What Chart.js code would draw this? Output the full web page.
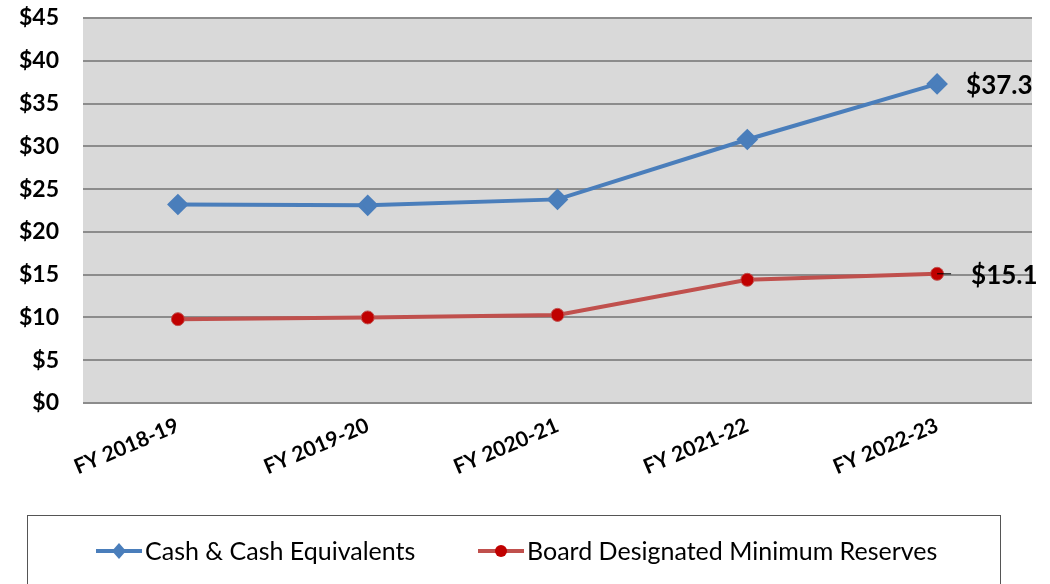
<!DOCTYPE html>
<html>
<head>
<meta charset="utf-8">
<script src="https://cdn.jsdelivr.net/npm/chart.js@4"></script>
<style>
  html, body { margin: 0; padding: 0; background: #fff; }
  #wrap { width: 1050px; height: 584px; position: relative; }
</style>
</head>
<body>
<div id="wrap"><canvas id="reserveChart"></canvas></div>
<script>
const years = ['FY 2018-19', 'FY 2019-20', 'FY 2020-21', 'FY 2021-22', 'FY 2022-23'];
const cashValues = [23.2, 23.1, 23.8, 30.8, 37.3];
const reserveValues = [9.8, 10.0, 10.3, 14.4, 15.1];
const seriesNames = ['Cash & Cash Equivalents', 'Board Designated Minimum Reserves'];

const fontName = 'Lato, "DejaVu Sans", sans-serif';

// gray plot area
const plotBackground = {
    id: 'plotBackground',
    beforeDraw(chart) {
        const { ctx, chartArea } = chart;
        ctx.save();
        ctx.fillStyle = '#d9d9d9';
        ctx.fillRect(chartArea.left, chartArea.top, chartArea.right - chartArea.left, chartArea.bottom - chartArea.top);
        ctx.restore();
    }
};

// labels on the last point of each line
const lastLabels = {
    id: 'lastLabels',
    afterDatasetsDraw(chart) {
        const { ctx } = chart;
        ctx.save();
        ctx.font = 'bold 26px ' + fontName;
        ctx.fillStyle = '#000';
        ctx.textBaseline = 'middle';
        chart.data.datasets.forEach((ds, i) => {
            const meta = chart.getDatasetMeta(i);
            const pt = meta.data[meta.data.length - 1];
            const value = ds.data[ds.data.length - 1];
            const off = i === 0 ? 29 : 34;
            if (i === 1) {
                ctx.strokeStyle = '#000';
                ctx.lineWidth = 1;
                ctx.beginPath();
                ctx.moveTo(pt.x, pt.y);
                ctx.lineTo(pt.x + 14, pt.y);
                ctx.stroke();
            }
            ctx.fillText('$' + value.toFixed(1), pt.x + off, pt.y + 2);
        });
        ctx.restore();
    }
};

// boxed legend at the bottom
const boxLegend = {
    id: 'boxLegend',
    afterDraw(chart) {
        const { ctx } = chart;
        ctx.save();
        ctx.strokeStyle = '#555';
        ctx.lineWidth = 1;
        ctx.strokeRect(27.5, 515.5, 973, 80);

        ctx.font = '25px ' + fontName;
        ctx.textBaseline = 'middle';
        ctx.fillStyle = '#000';
        const y = 551;
        const starts = [96, 478];
        chart.data.datasets.forEach((ds, i) => {
            const x = starts[i];
            ctx.strokeStyle = ds.borderColor;
            ctx.lineWidth = 4;
            ctx.beginPath();
            ctx.moveTo(x, y);
            ctx.lineTo(x + 46, y);
            ctx.stroke();
            ctx.fillStyle = ds.pointBackgroundColor;
            ctx.beginPath();
            if (i === 0) {
                ctx.moveTo(x + 23, y - 8);
                ctx.lineTo(x + 30, y);
                ctx.lineTo(x + 23, y + 8);
                ctx.lineTo(x + 16, y);
            } else {
                ctx.arc(x + 23, y, 6, 0, Math.PI * 2);
            }
            ctx.fill();
            ctx.fillStyle = '#000';
            ctx.fillText(ds.label, x + 49, y + 1);
        });
        ctx.restore();
    }
};

new Chart(document.getElementById('reserveChart'), {
    type: 'line',
    data: {
        labels: years,
        datasets: [
            {
                label: seriesNames[0],
                data: cashValues,
                borderColor: '#4a7ebb',
                backgroundColor: '#4a7ebb',
                pointBackgroundColor: '#4a7ebb',
                pointBorderColor: '#4a7ebb',
                pointStyle: 'rectRot',
                pointRadius: 8,
                borderWidth: 4,
                tension: 0
            },
            {
                label: seriesNames[1],
                data: reserveValues,
                borderColor: '#c0504d',
                backgroundColor: '#c00000',
                pointBackgroundColor: '#c00000',
                pointBorderColor: '#c0504d',
                pointBorderWidth: 1,
                pointStyle: 'circle',
                pointRadius: 6.5,
                borderWidth: 4,
                tension: 0
            }
        ]
    },
    options: {
        responsive: true,
        maintainAspectRatio: false,
        animation: false,
        layout: { padding: { top: 18, right: 18, left: 0, bottom: 0 } },
        plugins: {
            legend: { display: false },
            tooltip: { enabled: false }
        },
        scales: {
            x: {
                offset: true,
                afterFit: (scale) => {
                    scale.height = 181;
                    scale.paddingLeft = 0;
                    scale.paddingRight = 0;
                },
                grid: { display: false, drawTicks: false },
                border: { display: false },
                ticks: {
                    color: '#000',
                    font: { family: fontName, size: 21, weight: 'bold' },
                    minRotation: 23,
                    maxRotation: 23,
                    padding: 10
                }
            },
            y: {
                min: 0,
                max: 45,
                afterFit: (scale) => {
                    scale.width = 83;
                    scale.paddingTop = 0;
                    scale.paddingBottom = 0;
                },
                grid: { color: '#8c8c8c', lineWidth: 2, drawTicks: false },
                border: { display: false },
                ticks: {
                    stepSize: 5,
                    color: '#000',
                    padding: 24,
                    font: { family: fontName, size: 23, weight: 'bold' },
                    callback: (v) => '$' + v
                }
            }
        }
    },
    plugins: [plotBackground, lastLabels, boxLegend]
});
</script>
</body>
</html>
